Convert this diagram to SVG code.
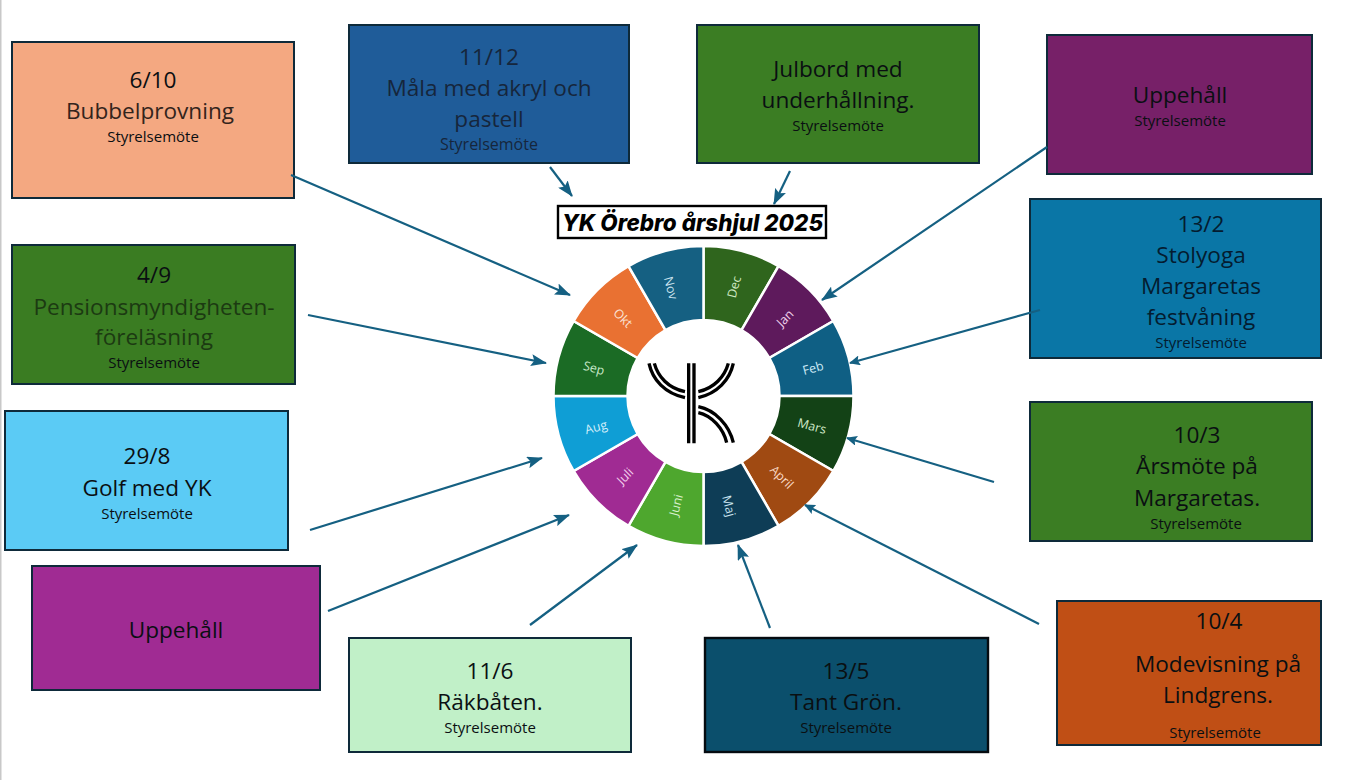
<svg xmlns="http://www.w3.org/2000/svg" width="1347" height="780" viewBox="0 0 1347 780">
<style>
.box{stroke:#0e2a3a;stroke-width:2}
text{font-family:"Open Sans","Noto Sans","Liberation Sans",sans-serif;text-anchor:middle}
.b{font-size:22.6px;fill:#0a0f12}
.d{font-size:22.6px}
.s{font-size:15px;fill:#0a0f12}
.w{stroke:#fff;stroke-width:2.5}
.m{font-size:12.5px}
.l{fill:none;stroke:#000;stroke-width:10}
.c{fill:none;stroke:#156082;stroke-width:2.2;marker-end:url(#a)}
.t{fill:none;stroke:#156082;stroke-width:2.2;marker-end:url(#e)}
</style>
<defs>
<marker id="a" markerUnits="userSpaceOnUse" markerWidth="16" markerHeight="12" refX="15" refY="6" orient="auto"><path d="M0,0L16,6L0,12L3,6Z" fill="#156082"/></marker>
<marker id="e" markerUnits="userSpaceOnUse" markerWidth="11" markerHeight="10" refX="10" refY="5" orient="auto"><path d="M0,0L11,5L0,10L2,5Z" fill="#156082"/></marker>
</defs>
<rect width="1347" height="780" fill="#fff"/>
<rect width="1.5" height="780" fill="#c8c8c8"/>
<g id="n-okt"><rect class="box" x="12" y="42" width="282" height="156" fill="#F4A881"/><text class="b" x="153" y="88">6/10</text><text class="d" fill="#33241c" x="150" y="119">Bubbelprovning</text><text class="s" x="153" y="142">Styrelsemöte</text></g>
<g id="n-nov"><rect class="box" x="349" y="25" width="280" height="138" fill="#1F5C99"/><text class="d" fill="#16263c" x="489" y="65">11/12</text><text class="d" fill="#16263c" x="489" y="96">Måla med akryl och</text><text class="d" fill="#16263c" x="489" y="127">pastell</text><text class="s" style="font-size:16px;fill:#16263c" x="489" y="150">Styrelsemöte</text></g>
<g id="n-dec"><rect class="box" x="697" y="25" width="282" height="138" fill="#3B7D23"/><text class="b" x="838" y="77">Julbord med</text><text class="b" x="838" y="108">underhållning.</text><text class="s" x="838" y="131">Styrelsemöte</text></g>
<g id="n-jan"><rect class="box" x="1047" y="35" width="265" height="139" fill="#772068"/><text class="b" x="1180" y="103">Uppehåll</text><text class="s" x="1180" y="126">Styrelsemöte</text></g>
<g id="n-feb"><rect class="box" x="1030" y="199" width="291" height="159" fill="#0A76A6"/><text class="b" fill="#041c30" style="fill:#041c30" x="1201" y="232">13/2</text><text class="b" style="fill:#041c30" x="1201" y="263">Stolyoga</text><text class="b" style="fill:#041c30" x="1201" y="294">Margaretas</text><text class="b" style="fill:#041c30" x="1201" y="325">festvåning</text><text class="s" style="fill:#041c30" x="1201" y="348">Styrelsemöte</text></g>
<g id="n-mars"><rect class="box" x="1030" y="402" width="282" height="139" fill="#3B7D23"/><text class="b" x="1197" y="443">10/3</text><text class="b" x="1197" y="474">Årsmöte på</text><text class="b" x="1197" y="506">Margaretas.</text><text class="s" x="1196" y="529">Styrelsemöte</text></g>
<g id="n-april"><rect class="box" x="1057" y="601" width="264" height="144" fill="#C04F15"/><text class="b" x="1219" y="629">10/4</text><text class="b" x="1218" y="672">Modevisning på</text><text class="b" x="1218" y="703">Lindgrens.</text><text class="s" x="1215" y="738">Styrelsemöte</text></g>
<g id="n-maj"><rect x="705" y="638" width="283" height="114" fill="#0B4F6C" stroke="#050b10" stroke-width="2.4"/><text class="b" x="846" y="679">13/5</text><text class="b" x="846" y="710">Tant Grön.</text><text class="s" x="846" y="733">Styrelsemöte</text></g>
<g id="n-juni"><rect class="box" x="349" y="638" width="282" height="114" fill="#C1F0C8"/><text class="b" x="490" y="679">11/6</text><text class="b" x="490" y="710">Räkbåten.</text><text class="s" x="490" y="733">Styrelsemöte</text></g>
<g id="n-juli"><rect class="box" x="32" y="566" width="288" height="124" fill="#A02B93"/><text class="b" x="176" y="638">Uppehåll</text></g>
<g id="n-aug"><rect class="box" x="5" y="411" width="283" height="139" fill="#5BCBF5"/><text class="b" x="147" y="464">29/8</text><text class="b" x="147" y="496">Golf med YK</text><text class="s" x="147" y="519">Styrelsemöte</text></g>
<g id="n-sep"><rect class="box" x="12" y="245" width="283" height="139" fill="#3A7C22"/><text class="b" x="154" y="283">4/9</text><text class="d" fill="#1c3a12" x="154" y="315">Pensionsmyndigheten-</text><text class="d" fill="#1c3a12" x="154" y="345">föreläsning</text><text class="s" x="154" y="368">Styrelsemöte</text></g>
<g id="title"><rect x="558" y="206" width="268" height="32" fill="#fff" stroke="#000" stroke-width="2.4"/><text x="692.5" y="231" textLength="261" lengthAdjust="spacingAndGlyphs" style="font-family:'Inter','Liberation Sans',sans-serif;font-weight:800;font-style:italic;font-size:23px" fill="#000">YK Örebro årshjul 2025</text></g>
<g id="wheel">
<path class="w" fill="#2F651D" d="M703.5,246A150,150 0 0 1 778.5,266.1L741.5,330.2A76,76 0 0 0 703.5,320Z"/>
<path class="w" fill="#5E1A5C" d="M778.5,266.1A150,150 0 0 1 833.4,321L769.3,358A76,76 0 0 0 741.5,330.2Z"/>
<path class="w" fill="#0F5F84" d="M833.4,321A150,150 0 0 1 853.5,396L779.5,396A76,76 0 0 0 769.3,358Z"/>
<path class="w" fill="#134216" d="M853.5,396A150,150 0 0 1 833.4,471L769.3,434A76,76 0 0 0 779.5,396Z"/>
<path class="w" fill="#A04A12" d="M833.4,471A150,150 0 0 1 778.5,525.9L741.5,461.8A76,76 0 0 0 769.3,434Z"/>
<path class="w" fill="#0E3D56" d="M778.5,525.9A150,150 0 0 1 703.5,546L703.5,472A76,76 0 0 0 741.5,461.8Z"/>
<path class="w" fill="#4EA72E" d="M703.5,546A150,150 0 0 1 628.5,525.9L665.5,461.8A76,76 0 0 0 703.5,472Z"/>
<path class="w" fill="#A02B93" d="M628.5,525.9A150,150 0 0 1 573.6,471L637.7,434A76,76 0 0 0 665.5,461.8Z"/>
<path class="w" fill="#0F9ED5" d="M573.6,471A150,150 0 0 1 553.5,396L627.5,396A76,76 0 0 0 637.7,434Z"/>
<path class="w" fill="#1B6B25" d="M553.5,396A150,150 0 0 1 573.6,321L637.7,358A76,76 0 0 0 627.5,396Z"/>
<path class="w" fill="#E97132" d="M573.6,321A150,150 0 0 1 628.5,266.1L665.5,330.2A76,76 0 0 0 637.7,358Z"/>
<path class="w" fill="#156082" d="M628.5,266.1A150,150 0 0 1 703.5,246L703.5,320A76,76 0 0 0 665.5,330.2Z"/>
<g dominant-baseline="central">
<text class="m" fill="#cfe8c2" transform="translate(734,287) rotate(-75)">Dec</text>
<text class="m" fill="#efd0ea" transform="translate(785,318) rotate(-45)">Jan</text>
<text class="m" fill="#cce8f5" transform="translate(813,368) rotate(-15)">Feb</text>
<text class="m" fill="#d0e8c8" transform="translate(812,426) rotate(15)">Mars</text>
<text class="m" fill="#f8d8c4" transform="translate(782,477) rotate(45)">April</text>
<text class="m" fill="#c8e2ee" transform="translate(729,506) rotate(75)">Maj</text>
<text class="m" fill="#d8f0cc" transform="translate(676,505) rotate(-75)">Juni</text>
<text class="m" fill="#f2cdec" transform="translate(625,476) rotate(-45)">Juli</text>
<text class="m" fill="#d4eefa" transform="translate(596,427) rotate(-15)">Aug</text>
<text class="m" fill="#c8e8c8" transform="translate(594,368) rotate(15)">Sep</text>
<text class="m" fill="#fbe2d4" transform="translate(623,318) rotate(45)">Okt</text>
<text class="m" fill="#cce4f0" transform="translate(671,288) rotate(75)">Nov</text>
</g>
</g>
<g id="logo" transform="translate(630,345) scale(.3333)">
<path class="l" d="M176,55V295M192,55V295"/>
<path class="l" d="M57,55C68,105 105,145 165,158M73,55C84,95 115,130 165,140"/>
<path class="l" d="M310,55C299,105 262,145 205,158M295,55C284,95 252,130 205,140"/>
<path class="l" d="M205,185C255,195 298,240 310,293M205,203C245,212 280,250 290,293"/>
</g>
<g id="connectors">
<path class="c" d="M291,175L570,295"/>
<path class="c" d="M550,167L572,196"/>
<path class="c" d="M790,171L774,204"/>
<path class="c" d="M1047,147L822,300"/>
<path class="t" d="M1040,310L850,363"/>
<path class="t" d="M994,482L847,438"/>
<path class="t" d="M1039,624L805,505"/>
<path class="c" d="M770,628L738,545"/>
<path class="c" d="M530,625L637,545"/>
<path class="c" d="M328,611L569,515"/>
<path class="c" d="M310,530L542,458"/>
<path class="c" d="M308,315L546,363"/>
</g>
</svg>
